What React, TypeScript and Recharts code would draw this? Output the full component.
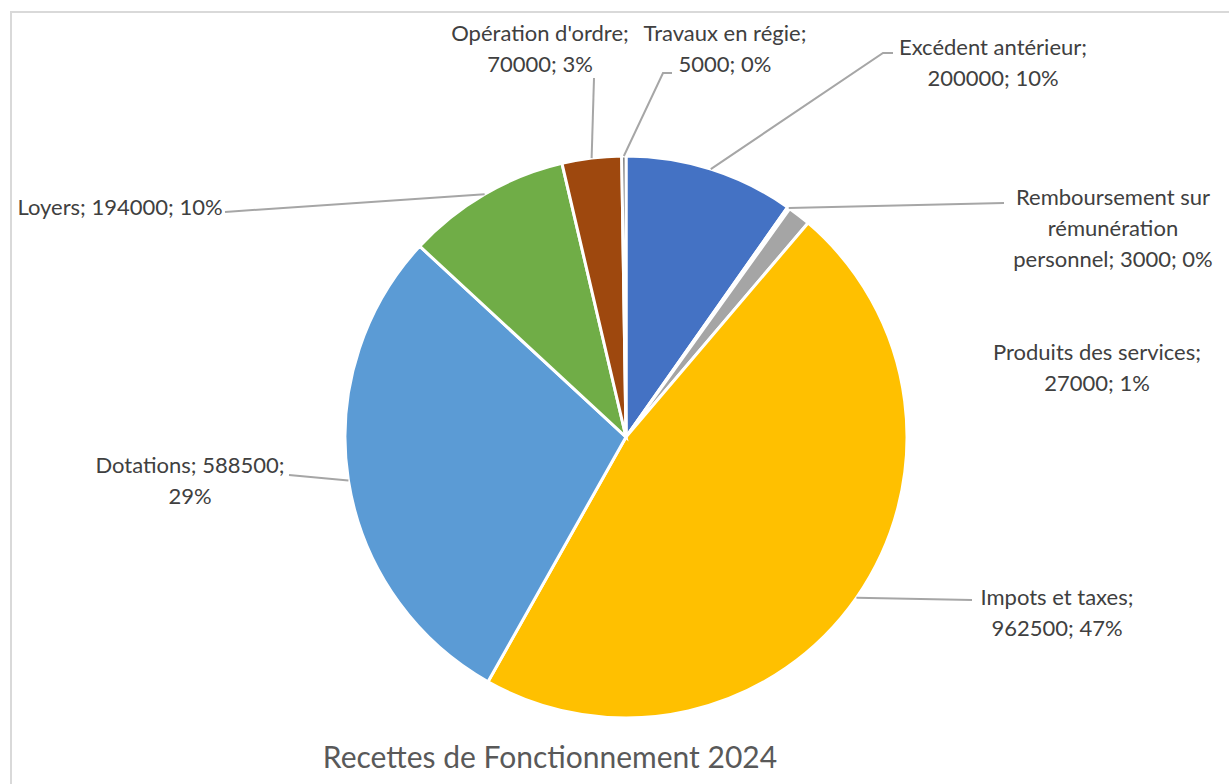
import { Pie, PieChart, Cell } from 'recharts';

const categories = [
  'Excédent antérieur',
  'Remboursement sur rémunération personnel',
  'Produits des services',
  'Impots et taxes',
  'Dotations',
  'Loyers',
  "Opération d'ordre",
  'Travaux en régie',
];

const values = [200000, 3000, 27000, 962500, 588500, 194000, 70000, 5000];

const colors = [
  '#4472C4',
  '#ED7D31',
  '#A5A5A5',
  '#FFC000',
  '#5B9BD5',
  '#70AD47',
  '#9E480E',
  '#636363',
];

const data = categories.map((name, i) => ({ name, value: values[i] }));
const total = values.reduce((a, b) => a + b, 0);

// Excel rounds the percentages so they add up to 100 (largest remainder)
const raw = values.map((v) => (v / total) * 100);
const pcts = raw.map(Math.floor);
const missing = 100 - pcts.reduce((a, b) => a + b, 0);
raw
  .map((r, i) => ({ i, rem: r - Math.floor(r) }))
  .sort((a, b) => b.rem - a.rem)
  .slice(0, missing)
  .forEach(({ i }) => (pcts[i] += 1));

// where each data label sits (text centre, first line) and the bend of its leader line
const labelLayout = [
  { x: 993, y: 47, wrap: 19, path: [[883, 53], [893, 53]] },
  { x: 1113, y: 197, wrap: 19, path: [[1004, 203]] },
  { x: 1097, y: 352, wrap: 22, path: null },
  { x: 1057, y: 597, wrap: 19, path: [[972, 600]] },
  { x: 190, y: 465, wrap: 19, path: [[289, 475]] },
  { x: 120, y: 207, wrap: 19, path: [[225, 212]] },
  { x: 540, y: 33, wrap: 19, path: [[594, 78]] },
  { x: 725, y: 33, wrap: 19, path: [[663, 73], [672, 73]] },
];

const RAD = Math.PI / 180;
const FONT = 'Lato, "Open Sans", sans-serif';

function wrapText(text: string, max: number) {
  const words = text.split(' ');
  const lines: string[] = [];
  let cur = '';
  for (const w of words) {
    if (cur && (cur + ' ' + w).length > max) {
      lines.push(cur);
      cur = w;
    } else {
      cur = cur ? cur + ' ' + w : w;
    }
  }
  if (cur) lines.push(cur);
  return lines;
}

function renderLabel(props: any) {
  const { cx, cy, midAngle, outerRadius, index, name, value } = props;
  const lay = labelLayout[index];
  const sx = cx + outerRadius * Math.cos(-midAngle * RAD);
  const sy = cy + outerRadius * Math.sin(-midAngle * RAD);
  const lines = wrapText(`${name}; ${value}; ${pcts[index]}%`, lay.wrap);
  const pts = lay.path ? [[sx, sy], ...lay.path].map((p) => p.join(',')).join(' ') : null;
  return (
    <g key={`lbl-${index}`}>
      {pts && <polyline points={pts} fill="none" stroke="#A6A6A6" strokeWidth={2} />}
      <text
        x={lay.x}
        y={lay.y + 8}
        textAnchor="middle"
        fill="#404040"
        fontSize={22}
        fontFamily={FONT}
      >
        {lines.map((l, i) => (
          <tspan key={i} x={lay.x} dy={i === 0 ? 0 : 31}>
            {l}
          </tspan>
        ))}
      </text>
    </g>
  );
}

export default function App() {
  return (
    <div
      style={{
        position: 'absolute',
        left: 0,
        top: 0,
        width: 1229,
        height: 784,
        overflow: 'hidden',
        background: '#fff',
      }}
    >
      <div
        style={{
          position: 'absolute',
          left: 10,
          top: 11,
          width: 1250,
          height: 800,
          border: '2px solid #D9D9D9',
        }}
      />
      <div style={{ position: 'absolute', left: 0, top: 0 }}>
        <PieChart width={1229} height={784} margin={{ top: 0, right: 0, bottom: 0, left: 0 }}>
          <Pie
            data={data}
            dataKey="value"
            nameKey="name"
            cx={626}
            cy={437}
            outerRadius={281}
            startAngle={90}
            endAngle={-270}
            stroke="#fff"
            strokeWidth={3}
            label={renderLabel}
            labelLine={false}
            isAnimationActive={false}
          >
            {data.map((d, i) => (
              <Cell key={d.name} fill={colors[i]} />
            ))}
          </Pie>
          <text
            x={550}
            y={768}
            textAnchor="middle"
            fill="#595959"
            fontSize={30}
            fontFamily={FONT}
          >
            Recettes de Fonctionnement 2024
          </text>
        </PieChart>
      </div>
    </div>
  );
}
